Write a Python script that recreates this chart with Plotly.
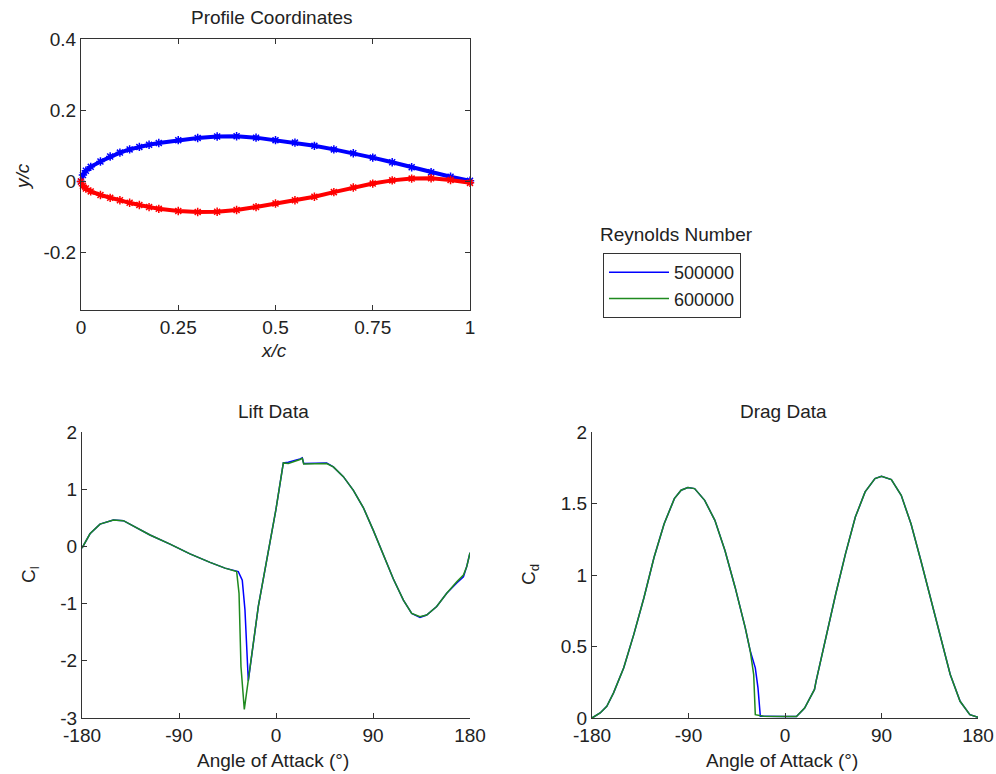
import plotly.graph_objects as go

# ---------------- data ----------------
# Profile coordinates
x_upper = [0, 0.005, 0.0125, 0.025, 0.05, 0.075, 0.1, 0.125, 0.15, 0.175, 0.2, 0.25, 0.3, 0.35, 0.4,
           0.45, 0.5, 0.55, 0.6, 0.65, 0.7, 0.75, 0.8, 0.85, 0.9, 0.95, 1.0]
y_upper = [0, 0.018, 0.03, 0.041, 0.056, 0.07, 0.081, 0.09, 0.097, 0.103, 0.108, 0.116, 0.122, 0.126, 0.127,
           0.123, 0.116, 0.109, 0.1, 0.09, 0.079, 0.067, 0.054, 0.04, 0.026, 0.013, 0.002]
x_lower = [0, 0.005, 0.0125, 0.025, 0.05, 0.075, 0.1, 0.125, 0.15, 0.175, 0.2, 0.25, 0.3, 0.35, 0.4,
           0.45, 0.5, 0.55, 0.6, 0.65, 0.7, 0.75, 0.8, 0.85, 0.9, 0.95, 1.0]
y_lower = [0, -0.012, -0.02, -0.028, -0.038, -0.046, -0.053, -0.06, -0.066, -0.072, -0.077, -0.083, -0.086, -0.085, -0.08,
           -0.072, -0.062, -0.053, -0.043, -0.03, -0.017, -0.006, 0.003, 0.008, 0.009, 0.004, -0.004]

# Lift data (Re = 600000)
alpha_cl_600k = [-180, -172.6, -163.3, -150.9, -141.6, -129.3, -116.9, -98.3, -79.8, -61.2, -47.3,
                 -36.5, -34.3, -32.5, -30.3, -29.4, -16.4, -7.1, 0, 6.8, 11.4, 22.3, 24.4, 25.7,
                 47, 53.2, 62.5, 71.8, 81, 90.3, 99.6, 108.9, 118.2, 125.9, 133.6, 139.8, 149.1,
                 158.4, 167.7, 173.9, 177, 180]
cl_600k = [-0.03, 0.22, 0.39, 0.46, 0.45, 0.33, 0.2, 0.04, -0.13, -0.28, -0.38,
           -0.44, -0.82, -2.1, -2.74, -2.85, -1.05, -0.06, 0.65, 1.46, 1.45, 1.52, 1.54, 1.44,
           1.45, 1.39, 1.22, 0.98, 0.68, 0.28, -0.14, -0.57, -0.94, -1.17, -1.23, -1.2, -1.05,
           -0.82, -0.62, -0.5, -0.35, -0.11]
# Lift data (Re = 500000)
alpha_cl_500k = [-180, -172.6, -163.3, -150.9, -141.6, -129.3, -116.9, -98.3, -79.8, -61.2, -47.3,
                 -35, -31.3, -28.8, -27.2, -25.7, -16.4, -7.1, 0, 6.8, 11.4, 22.3, 24.4, 25.7,
                 47, 53.2, 62.5, 71.8, 81, 90.3, 99.6, 108.9, 118.2, 125.9, 133.6, 139.8, 149.1,
                 158.4, 167.7, 173.9, 177, 180]
cl_500k = [-0.03, 0.22, 0.39, 0.46, 0.45, 0.33, 0.2, 0.04, -0.13, -0.28, -0.38,
           -0.44, -0.59, -1.11, -1.75, -2.35, -1.05, -0.06, 0.65, 1.46, 1.47, 1.53, 1.55, 1.45,
           1.46, 1.39, 1.22, 0.98, 0.68, 0.28, -0.14, -0.57, -0.94, -1.17, -1.24, -1.2, -1.05,
           -0.82, -0.64, -0.53, -0.35, -0.11]

# Drag data (Re = 600000)
alpha_cd_600k = [-180, -172.4, -166.2, -159.9, -150.4, -141, -131.5, -122.1, -112.7, -103.2, -96.9,
                 -90.6, -84.3, -74.9, -65.4, -56, -46.5, -37.1, -32.4, -29.2, -27.7, -20, 0, 10.7,
                 18.3, 27.5, 29, 38.1, 47.3, 56.4, 65.6, 74.7, 83.9, 90, 99.2, 108.4, 117.5, 126.7,
                 135.8, 145, 154.1, 163.3, 172.4, 180]
cd_600k = [0, 0.035, 0.082, 0.176, 0.351, 0.585, 0.843, 1.124, 1.358, 1.534, 1.593,
           1.611, 1.604, 1.522, 1.382, 1.171, 0.913, 0.632, 0.468, 0.304, 0.023, 0.012, 0.01, 0.01,
           0.07, 0.2, 0.258, 0.562, 0.867, 1.148, 1.405, 1.581, 1.674, 1.69, 1.667, 1.557, 1.358, 1.101,
           0.843, 0.562, 0.304, 0.117, 0.023, 0.005]
# Drag data (Re = 500000)
alpha_cd_500k = [-180, -172.4, -166.2, -159.9, -150.4, -141, -131.5, -122.1, -112.7, -103.2, -96.9,
                 -90.6, -84.3, -74.9, -65.4, -56, -46.5, -37.1, -32.4, -27.7, -25.2, -23, 0, 10.7,
                 18.3, 27.5, 29, 38.1, 47.3, 56.4, 65.6, 74.7, 83.9, 90, 99.2, 108.4, 117.5, 126.7,
                 135.8, 145, 154.1, 163.3, 172.4, 180]
cd_500k = [0, 0.035, 0.082, 0.176, 0.351, 0.585, 0.843, 1.124, 1.358, 1.534, 1.593,
           1.611, 1.604, 1.522, 1.382, 1.171, 0.913, 0.632, 0.468, 0.351, 0.211, 0.012, 0.01, 0.01,
           0.07, 0.2, 0.258, 0.562, 0.867, 1.148, 1.405, 1.581, 1.674, 1.69, 1.667, 1.557, 1.358, 1.101,
           0.843, 0.562, 0.304, 0.117, 0.023, 0.005]

reynolds_labels = ["500000", "600000"]
angle_ticks = [-180, -90, 0, 90, 180]

# ---------------- style ----------------
W, H = 996, 774
FONT = "Liberation Sans, Arial, sans-serif"
TXT = "#222222"
AX = "#333333"
BLUE = "#0000ff"
GREEN = "#1f8a1f"
RED = "#ff0000"
FS = 19

def px(x):
    return x / W

def py(y):
    return 1 - y / H

fig = go.Figure()

# Profile
marker_style = dict(symbol="asterisk-open", size=7)
fig.add_trace(go.Scatter(x=x_upper, y=y_upper, mode="lines+markers", xaxis="x", yaxis="y",
                         line=dict(color=BLUE, width=4),
                         marker=dict(color=BLUE, line=dict(color=BLUE, width=1.5), **marker_style),
                         showlegend=False, cliponaxis=False))
fig.add_trace(go.Scatter(x=x_lower, y=y_lower, mode="lines+markers", xaxis="x", yaxis="y",
                         line=dict(color=RED, width=4),
                         marker=dict(color=RED, line=dict(color=RED, width=1.5), **marker_style),
                         showlegend=False, cliponaxis=False))

# Lift
fig.add_trace(go.Scatter(x=alpha_cl_500k, y=cl_500k, mode="lines", xaxis="x2", yaxis="y2",
                         line=dict(color=BLUE, width=1.5), name=reynolds_labels[0], showlegend=True))
fig.add_trace(go.Scatter(x=alpha_cl_600k, y=cl_600k, mode="lines", xaxis="x2", yaxis="y2",
                         line=dict(color=GREEN, width=1.5), name=reynolds_labels[1], showlegend=True))
# Drag
fig.add_trace(go.Scatter(x=alpha_cd_500k, y=cd_500k, mode="lines", xaxis="x3", yaxis="y3",
                         line=dict(color=BLUE, width=1.5), name=reynolds_labels[0], showlegend=False))
fig.add_trace(go.Scatter(x=alpha_cd_600k, y=cd_600k, mode="lines", xaxis="x3", yaxis="y3",
                         line=dict(color=GREEN, width=1.5), name=reynolds_labels[1], showlegend=False))

common = dict(showgrid=False, zeroline=False, showline=True, linecolor=AX, linewidth=1,
              ticks="inside", ticklen=5, tickcolor=AX, tickwidth=1, automargin=False,
              tickfont=dict(family=FONT, size=FS, color=TXT))

fig.update_layout(
    width=W, height=H,
    margin=dict(l=0, r=0, t=0, b=0, autoexpand=False),
    paper_bgcolor="white", plot_bgcolor="white",
    xaxis=dict(domain=[px(81), px(470)], anchor="y", range=[0, 1],
               tickvals=[0, 0.25, 0.5, 0.75, 1], ticktext=["0", "0.25", "0.5", "0.75", "1"],
               mirror="ticks", **common),
    yaxis=dict(domain=[py(310), py(39)], anchor="x", range=[-0.361, 0.4],
               tickvals=[-0.2, 0, 0.2, 0.4], ticktext=["-0.2", "0", "0.2", "0.4"],
               mirror="ticks", **common),
    xaxis2=dict(domain=[px(82), px(470)], anchor="y2", range=[-180, 180],
                tickvals=angle_ticks, ticktext=[str(v) for v in angle_ticks], **common),
    yaxis2=dict(domain=[py(718), py(432)], anchor="x2", range=[-3, 2],
                tickvals=[-3, -2, -1, 0, 1, 2], ticktext=["-3", "-2", "-1", "0", "1", "2"], **common),
    xaxis3=dict(domain=[px(592), px(978)], anchor="y3", range=[-180, 180],
                tickvals=angle_ticks, ticktext=[str(v) for v in angle_ticks], **common),
    yaxis3=dict(domain=[py(718), py(432)], anchor="x3", range=[0, 2],
                tickvals=[0, 0.5, 1, 1.5, 2], ticktext=["0", "0.5", "1", "1.5", "2"], **common),
    legend=dict(x=px(603), y=py(253), xanchor="left", yanchor="top",
                bordercolor=AX, borderwidth=1, bgcolor="white",
                font=dict(family=FONT, size=18, color=TXT),
                itemwidth=60, tracegroupgap=0, entrywidth=145, entrywidthmode="pixels"),
    showlegend=True,
)

def label(text, x, y, angle=0, italic=False):
    t = f"<i>{text}</i>" if italic else text
    fig.add_annotation(text=t, x=px(x), y=py(y), xref="paper", yref="paper",
                       xanchor="center", yanchor="middle", showarrow=False, textangle=angle,
                       font=dict(family=FONT, size=FS, color=TXT))

label("Profile Coordinates", 272, 17)
label("x/c", 274, 350, italic=True)
label("y/c", 23, 177, angle=-90, italic=True)
label("Lift Data", 273, 411)
label("Angle of Attack (°)", 273, 760)
label("C<sub>l</sub>", 30, 575, angle=-90)
label("Drag Data", 783, 411)
label("Angle of Attack (°)", 782, 760)
label("C<sub>d</sub>", 530, 575, angle=-90)
label("Reynolds Number", 676, 234)

fig.write_html("out.html")
